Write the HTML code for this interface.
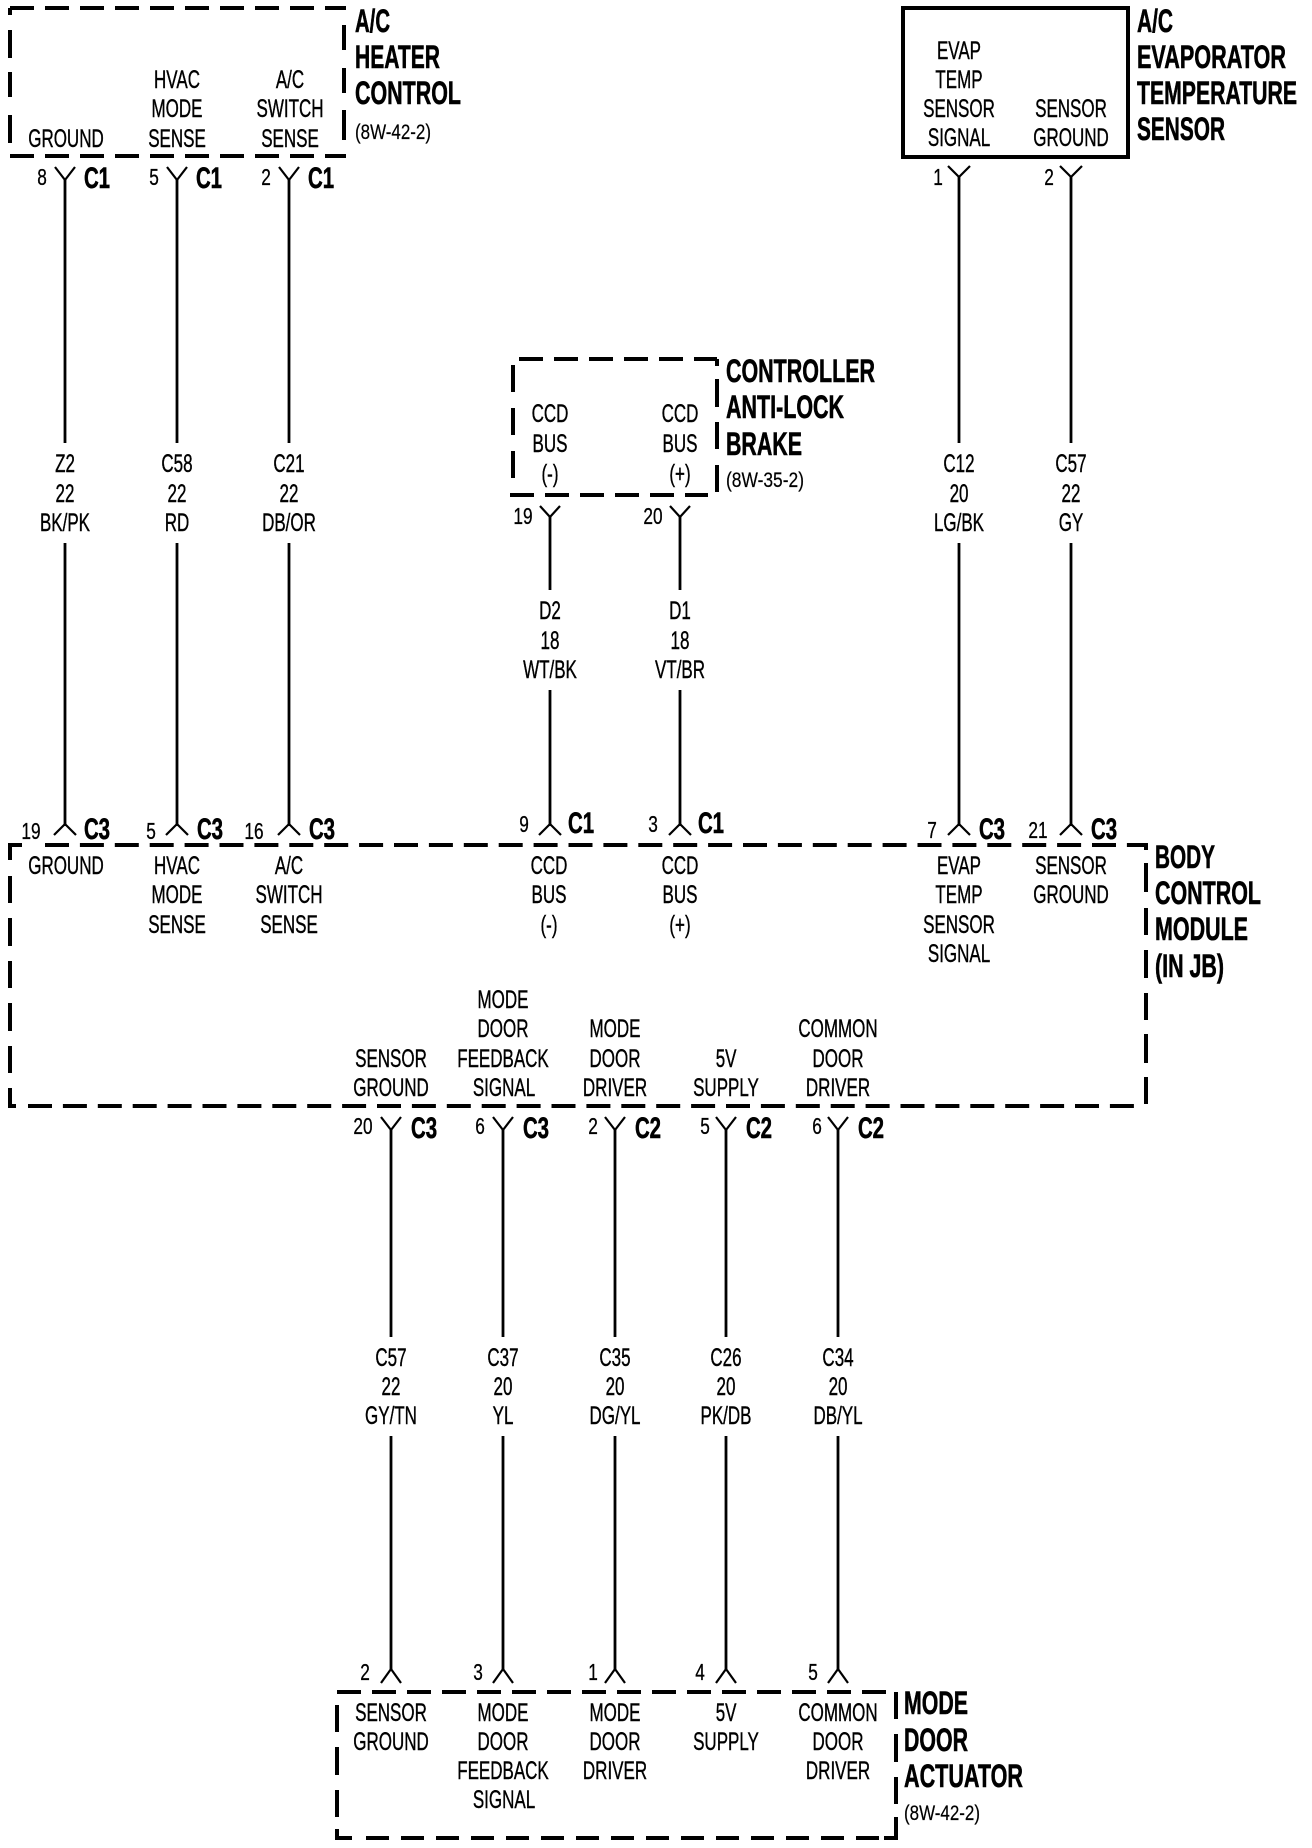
<!DOCTYPE html>
<html><head><meta charset="utf-8"><style>
html,body{margin:0;padding:0;background:#fff}
svg{display:block}
text{font-family:"Liberation Sans",sans-serif;fill:#000;text-anchor:middle;transform-box:fill-box;transform-origin:center}
.l{font-size:25px;transform:scaleX(.68);stroke:#000;stroke-width:.4}
.p{font-size:23px;transform:scaleX(.75);stroke:#000;stroke-width:.3}
.c{font-size:30px;font-weight:bold;transform:scaleX(.68);stroke:#000;stroke-width:.6}
.t{font-size:32px;font-weight:bold;text-anchor:start;stroke:#000;stroke-width:.6}
.r{font-size:21px;text-anchor:start;stroke:#000;stroke-width:.2}
</style></head><body>
<svg width="1312" height="1848" viewBox="0 0 1312 1848" xmlns="http://www.w3.org/2000/svg">
<rect width="1312" height="1848" fill="#fff"/>
<g fill="none" stroke="#000" stroke-width="4">
<!-- Heater box -->
<path d="M10 8H346M10 156H346" stroke-dasharray="24 11"/>
<path d="M10 8V15M10 30V58M10 72V97M10 115V143M344 25V50M344 68V93M344 110V140"/>
<!-- Evap box -->
<rect x="903" y="8" width="225" height="149"/>
<!-- Controller box -->
<path d="M519 359H717" stroke-dasharray="24 11"/>
<path d="M510 495H708" stroke-dasharray="24 11"/>
<path d="M513 365V392M513 408V435M513 451V478M717 359V366M717 379V407M717 422V449M717 465V492"/>
<!-- BCM box -->
<path d="M45 845H1147" stroke-dasharray="24 10.9"/>
<path d="M28 1106H1135" stroke-dasharray="24 10.9"/>
<path d="M22 845H10V860M10 876V903M10 918V946M10 961V988M10 1003V1031M10 1046V1073M10 1088V1106H16M1127 845H1146V850M1146 863V892M1146 908V935M1146 950V978M1146 993V1020M1146 1034V1063M1146 1077V1104"/>
<!-- Mode door box -->
<path d="M337 1692H887" stroke-dasharray="24 11"/>
<path d="M366 1838H880" stroke-dasharray="23 12"/>
<path d="M337 1705V1732M337 1747V1775M337 1790V1817M337 1829V1838H352M896 1692V1719M896 1734V1762M896 1777V1804M896 1817V1838H884"/>
</g>
<g fill="none" stroke="#000" stroke-width="2.8">
<path d="M65 180V443M65 543V824M177 180V443M177 543V824M289 180V443M289 543V824"/>
<path d="M959 177V443M959 543V824M1071 177V443M1071 543V824"/>
<path d="M550 517V590M550 690V824M680 517V590M680 690V824"/>
<path d="M391 1130V1337M391 1436V1669M503 1130V1337M503 1436V1669M615 1130V1337M615 1436V1669M726 1130V1337M726 1436V1669M838 1130V1337M838 1436V1669"/>
</g>
<g fill="none" stroke="#000" stroke-width="2.2">
<path d="M55 167L65 180L75 167M167 167L177 180L187 167M279 167L289 180L299 167M948 166L959 177L970 166M1060 166L1071 177L1082 166M540 506L550 517L560 506M670 506L680 517L690 506"/>
<path d="M54 835L65 824L76 835M166 835L177 824L188 835M278 835L289 824L300 835M539 835L550 824L561 835M669 835L680 824L691 835M948 835L959 824L970 835M1060 835L1071 824L1082 835"/>
<path d="M381 1117L391 1130L401 1117M493 1117L503 1130L513 1117M605 1117L615 1130L625 1117M716 1117L726 1130L736 1117M828 1117L838 1130L848 1117"/>
<path d="M381 1683L391 1669L401 1683M493 1683L503 1669L513 1683M605 1683L615 1669L625 1683M716 1683L726 1669L736 1683M828 1683L838 1669L848 1683"/>
</g>

<!-- Titles -->
<text class="t" x="355" y="32" textLength="35" lengthAdjust="spacingAndGlyphs">A/C</text>
<text class="t" x="355" y="68" textLength="85" lengthAdjust="spacingAndGlyphs">HEATER</text>
<text class="t" x="355" y="104" textLength="106" lengthAdjust="spacingAndGlyphs">CONTROL</text>
<text class="r" x="355" y="139" textLength="76" lengthAdjust="spacingAndGlyphs">(8W-42-2)</text>

<text class="t" x="1137" y="32" textLength="36" lengthAdjust="spacingAndGlyphs">A/C</text>
<text class="t" x="1137" y="68" textLength="149" lengthAdjust="spacingAndGlyphs">EVAPORATOR</text>
<text class="t" x="1137" y="104" textLength="160" lengthAdjust="spacingAndGlyphs">TEMPERATURE</text>
<text class="t" x="1137" y="140" textLength="88" lengthAdjust="spacingAndGlyphs">SENSOR</text>

<text class="t" x="726" y="382" textLength="149" lengthAdjust="spacingAndGlyphs">CONTROLLER</text>
<text class="t" x="726" y="418" textLength="118" lengthAdjust="spacingAndGlyphs">ANTI-LOCK</text>
<text class="t" x="726" y="455" textLength="76" lengthAdjust="spacingAndGlyphs">BRAKE</text>
<text class="r" x="726" y="487" textLength="78" lengthAdjust="spacingAndGlyphs">(8W-35-2)</text>

<text class="t" x="1155" y="868" textLength="60" lengthAdjust="spacingAndGlyphs">BODY</text>
<text class="t" x="1155" y="904" textLength="106" lengthAdjust="spacingAndGlyphs">CONTROL</text>
<text class="t" x="1155" y="940" textLength="93" lengthAdjust="spacingAndGlyphs">MODULE</text>
<text class="t" x="1155" y="977" textLength="69" lengthAdjust="spacingAndGlyphs">(IN JB)</text>

<text class="t" x="904" y="1714" textLength="64" lengthAdjust="spacingAndGlyphs">MODE</text>
<text class="t" x="904" y="1751" textLength="64" lengthAdjust="spacingAndGlyphs">DOOR</text>
<text class="t" x="904" y="1787" textLength="119" lengthAdjust="spacingAndGlyphs">ACTUATOR</text>
<text class="r" x="904" y="1820" textLength="76" lengthAdjust="spacingAndGlyphs">(8W-42-2)</text>

<!-- Heater labels -->
<text class="l" x="66" y="147">GROUND</text>
<text class="l" x="177" y="88">HVAC</text>
<text class="l" x="177" y="117">MODE</text>
<text class="l" x="177" y="147">SENSE</text>
<text class="l" x="290" y="88">A/C</text>
<text class="l" x="290" y="117">SWITCH</text>
<text class="l" x="290" y="147">SENSE</text>
<text class="p" x="42" y="185">8</text><text class="c" x="97" y="188">C1</text>
<text class="p" x="154" y="185">5</text><text class="c" x="209" y="188">C1</text>
<text class="p" x="266" y="185">2</text><text class="c" x="321" y="188">C1</text>

<!-- Evap labels -->
<text class="l" x="959" y="59">EVAP</text>
<text class="l" x="959" y="88">TEMP</text>
<text class="l" x="959" y="117">SENSOR</text>
<text class="l" x="959" y="146">SIGNAL</text>
<text class="l" x="1071" y="117">SENSOR</text>
<text class="l" x="1071" y="146">GROUND</text>
<text class="p" x="938" y="185">1</text><text class="p" x="1049" y="185">2</text>

<!-- Controller labels -->
<text class="l" x="550" y="422">CCD</text>
<text class="l" x="550" y="452">BUS</text>
<text class="l" x="550" y="482">(-)</text>
<text class="l" x="680" y="422">CCD</text>
<text class="l" x="680" y="452">BUS</text>
<text class="l" x="680" y="482">(+)</text>
<text class="p" x="523" y="524">19</text><text class="p" x="653" y="524">20</text>

<!-- Wire labels -->
<text class="l" x="65" y="472">Z2</text><text class="l" x="65" y="502">22</text><text class="l" x="65" y="531">BK/PK</text>
<text class="l" x="177" y="472">C58</text><text class="l" x="177" y="502">22</text><text class="l" x="177" y="531">RD</text>
<text class="l" x="289" y="472">C21</text><text class="l" x="289" y="502">22</text><text class="l" x="289" y="531">DB/OR</text>
<text class="l" x="550" y="619">D2</text><text class="l" x="550" y="649">18</text><text class="l" x="550" y="678">WT/BK</text>
<text class="l" x="680" y="619">D1</text><text class="l" x="680" y="649">18</text><text class="l" x="680" y="678">VT/BR</text>
<text class="l" x="959" y="472">C12</text><text class="l" x="959" y="502">20</text><text class="l" x="959" y="531">LG/BK</text>
<text class="l" x="1071" y="472">C57</text><text class="l" x="1071" y="502">22</text><text class="l" x="1071" y="531">GY</text>

<text class="l" x="391" y="1366">C57</text><text class="l" x="391" y="1395">22</text><text class="l" x="391" y="1424">GY/TN</text>
<text class="l" x="503" y="1366">C37</text><text class="l" x="503" y="1395">20</text><text class="l" x="503" y="1424">YL</text>
<text class="l" x="615" y="1366">C35</text><text class="l" x="615" y="1395">20</text><text class="l" x="615" y="1424">DG/YL</text>
<text class="l" x="726" y="1366">C26</text><text class="l" x="726" y="1395">20</text><text class="l" x="726" y="1424">PK/DB</text>
<text class="l" x="838" y="1366">C34</text><text class="l" x="838" y="1395">20</text><text class="l" x="838" y="1424">DB/YL</text>

<!-- BCM top pins -->
<text class="p" x="31" y="839">19</text><text class="c" x="97" y="839">C3</text>
<text class="p" x="151" y="839">5</text><text class="c" x="210" y="839">C3</text>
<text class="p" x="254" y="839">16</text><text class="c" x="322" y="839">C3</text>
<text class="p" x="524" y="832">9</text><text class="c" x="581" y="833">C1</text>
<text class="p" x="653" y="832">3</text><text class="c" x="711" y="833">C1</text>
<text class="p" x="932" y="838">7</text><text class="c" x="992" y="839">C3</text>
<text class="p" x="1038" y="838">21</text><text class="c" x="1104" y="839">C3</text>

<!-- BCM labels top -->
<text class="l" x="66" y="874">GROUND</text>
<text class="l" x="177" y="874">HVAC</text><text class="l" x="177" y="903">MODE</text><text class="l" x="177" y="933">SENSE</text>
<text class="l" x="289" y="874">A/C</text><text class="l" x="289" y="903">SWITCH</text><text class="l" x="289" y="933">SENSE</text>
<text class="l" x="549" y="874">CCD</text><text class="l" x="549" y="903">BUS</text><text class="l" x="549" y="933">(-)</text>
<text class="l" x="680" y="874">CCD</text><text class="l" x="680" y="903">BUS</text><text class="l" x="680" y="933">(+)</text>
<text class="l" x="959" y="874">EVAP</text><text class="l" x="959" y="903">TEMP</text><text class="l" x="959" y="933">SENSOR</text><text class="l" x="959" y="962">SIGNAL</text>
<text class="l" x="1071" y="874">SENSOR</text><text class="l" x="1071" y="903">GROUND</text>

<!-- BCM labels bottom -->
<text class="l" x="391" y="1067">SENSOR</text><text class="l" x="391" y="1096">GROUND</text>
<text class="l" x="503" y="1008">MODE</text><text class="l" x="503" y="1037">DOOR</text><text class="l" x="503" y="1067">FEEDBACK</text><text class="l" x="504" y="1096">SIGNAL</text>
<text class="l" x="615" y="1037">MODE</text><text class="l" x="615" y="1067">DOOR</text><text class="l" x="615" y="1096">DRIVER</text>
<text class="l" x="726" y="1067">5V</text><text class="l" x="726" y="1096">SUPPLY</text>
<text class="l" x="838" y="1037">COMMON</text><text class="l" x="838" y="1067">DOOR</text><text class="l" x="838" y="1096">DRIVER</text>

<text class="p" x="363" y="1134">20</text><text class="c" x="424" y="1138">C3</text>
<text class="p" x="480" y="1134">6</text><text class="c" x="536" y="1138">C3</text>
<text class="p" x="593" y="1134">2</text><text class="c" x="648" y="1138">C2</text>
<text class="p" x="705" y="1134">5</text><text class="c" x="759" y="1138">C2</text>
<text class="p" x="817" y="1134">6</text><text class="c" x="871" y="1138">C2</text>

<!-- Mode door labels -->
<text class="p" x="365" y="1680">2</text><text class="p" x="478" y="1680">3</text><text class="p" x="593" y="1680">1</text><text class="p" x="700" y="1680">4</text><text class="p" x="813" y="1680">5</text>
<text class="l" x="391" y="1721">SENSOR</text><text class="l" x="391" y="1750">GROUND</text>
<text class="l" x="503" y="1721">MODE</text><text class="l" x="503" y="1750">DOOR</text><text class="l" x="503" y="1779">FEEDBACK</text><text class="l" x="504" y="1808">SIGNAL</text>
<text class="l" x="615" y="1721">MODE</text><text class="l" x="615" y="1750">DOOR</text><text class="l" x="615" y="1779">DRIVER</text>
<text class="l" x="726" y="1721">5V</text><text class="l" x="726" y="1750">SUPPLY</text>
<text class="l" x="838" y="1721">COMMON</text><text class="l" x="838" y="1750">DOOR</text><text class="l" x="838" y="1779">DRIVER</text>
</svg>
</body></html>
